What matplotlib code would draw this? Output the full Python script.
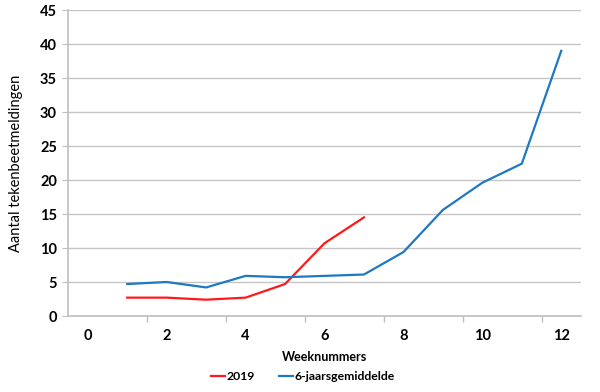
import matplotlib
matplotlib.use('Agg')
import matplotlib.pyplot as plt

weeks = list(range(1, 13))
y2019 = [2.7, 2.7, 2.4, 2.7, 4.7, 10.7, 14.5]
avg6 = [4.7, 5.0, 4.2, 5.9, 5.7, 5.9, 6.1, 9.4, 15.6, 19.6, 22.4, 39.0]
xlabels = [0, 2, 4, 6, 8, 10, 12]

plt.rcParams['font.family'] = ['Lato', 'DejaVu Sans']

fig = plt.figure(figsize=(6, 3.92), dpi=100)
ax = fig.add_axes([68 / 600, 1 - 316 / 392, 513 / 600, 306 / 392])

ax.plot(weeks[:len(y2019)], y2019, color='#ff1a1a', lw=1.6, label='2019')
ax.plot(weeks, avg6, color='#1f78c1', lw=1.6, label='6-jaarsgemiddelde')

ax.set_xlim(-0.5, 12.5)
ax.set_ylim(0, 45)
ax.set_yticks(range(0, 46, 5))
ax.set_xticks(xlabels)
ax.set_xticklabels([str(v) for v in xlabels], fontweight='bold', fontsize=10.5)
ax.set_xticks([1.5, 3.5, 5.5, 7.5, 9.5, 11.5], minor=True)
ax.tick_params(axis='x', which='major', length=0, pad=9)
ax.tick_params(axis='x', which='minor', length=4, color='#bfbfbf', width=1)
ax.tick_params(axis='y', length=4, color='#bfbfbf', labelsize=10.5, pad=4)
for lbl in ax.get_yticklabels():
    lbl.set_fontweight('bold')

ax.grid(axis='y', color='#c6c6c6', lw=1)
ax.set_axisbelow(True)
for s in ['top', 'right']:
    ax.spines[s].set_visible(False)
for s in ['left', 'bottom']:
    ax.spines[s].set_color('#bfbfbf')
    ax.spines[s].set_linewidth(1.2)

ax.set_xlabel('Weeknummers', fontweight='bold', fontsize=9, labelpad=6)
ax.set_ylabel('Aantal tekenbeetmeldingen', fontsize=10.5, labelpad=12)

leg = fig.legend(loc='center', bbox_to_anchor=(303 / 600, 1 - 377 / 392), ncol=2,
                 frameon=False, handlelength=1.1, handletextpad=0.15, columnspacing=2.0,
                 prop={'weight': 'bold', 'size': 8.8})

fig.savefig('out.png', dpi=100)
